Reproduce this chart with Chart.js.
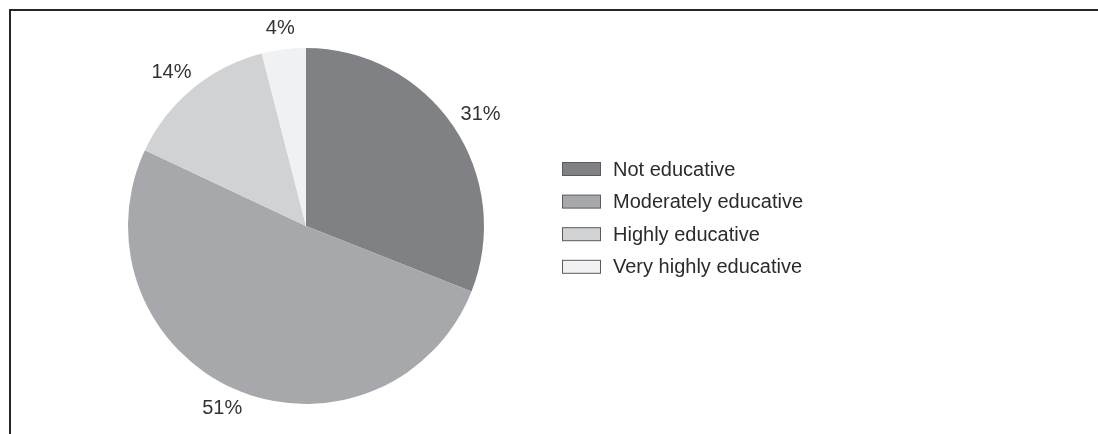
<!DOCTYPE html>
<html>
<head>
<meta charset="utf-8">
<script src="https://cdn.jsdelivr.net/npm/chart.js@4/dist/chart.umd.min.js"></script>
<style>
  html, body { margin: 0; padding: 0; background: #fff; }
  #wrap { position: relative; width: 1098px; height: 434px; }
  #frame { position: absolute; left: 9px; top: 9px; right: 0; bottom: 0;
           border-top: 2px solid #262626; border-left: 2px solid #262626; }
  canvas { position: absolute; left: 0; top: 0; }
</style>
</head>
<body>
<div id="wrap">
  <div id="frame"></div>
  <canvas id="pie" width="1098" height="434"></canvas>
</div>
<script>
'use strict';

// categories and shares (percent)
let labels = ['Not educative', 'Moderately educative', 'Highly educative', 'Very highly educative'];
let values = [31, 51, 14, 4];
let colors = ['#808184', '#a7a8ab', '#d1d2d4', '#f0f1f2'];

let textColor = '#2b2b2b';
let fontName = '"Liberation Sans", Arial, Helvetica, sans-serif';

// percent labels outside each slice
let outLabels = {
  id: 'outLabels',
  afterDatasetsDraw(chart) {
    let ctx = chart.ctx;
    let meta = chart.getDatasetMeta(0);
    ctx.save();
    ctx.font = '20px ' + fontName;
    ctx.fillStyle = '#333333';
    ctx.textAlign = 'center';
    ctx.textBaseline = 'middle';
    meta.data.forEach(function (arc, i) {
      let mid = (arc.startAngle + arc.endAngle) / 2;
      let txt = values[i] + '%';
      let halfW = ctx.measureText(txt).width / 2;
      let s = Math.cos(mid), c = Math.sin(mid);
      let r = arc.outerRadius + 13;
      // push the text out so its near edge sits on the anchor point
      ctx.fillText(txt, arc.x + r * s + halfW * s, arc.y + r * c + 8 * c);
    });
    ctx.restore();
  }
};

// legend to the right of the pie
let sideLegend = {
  id: 'sideLegend',
  afterDraw(chart) {
    let ctx = chart.ctx;
    let arc = chart.getDatasetMeta(0).data[0];
    let x0 = arc.x + 256;
    let y0 = arc.y - 57;
    ctx.save();
    ctx.font = '20px ' + fontName;
    ctx.textBaseline = 'middle';
    for (let i = 0; i < labels.length; i++) {
      let y = y0 + i * 32.6;
      ctx.fillStyle = colors[i];
      ctx.fillRect(x0, y - 6.5, 39, 13);
      ctx.strokeStyle = '#5a5b5d';
      ctx.lineWidth = 1;
      ctx.strokeRect(x0 + 0.5, y - 6.5, 38, 13);
      ctx.fillStyle = textColor;
      ctx.fillText(labels[i], x0 + 51, y + 1);
    }
    ctx.restore();
  }
};

let ctx = document.getElementById('pie').getContext('2d');
let chart = new Chart(ctx, {
  type: 'pie',
  data: {
    labels: labels,
    datasets: [{
      data: values,
      backgroundColor: colors,
      borderWidth: 0,
      hoverOffset: 0
    }]
  },
  options: {
    responsive: false,
    animation: false,
    layout: { padding: { left: 128, right: 614, top: 48, bottom: 30 } },
    plugins: {
      legend: { display: false },
      tooltip: { enabled: false }
    }
  },
  plugins: [outLabels, sideLegend]
});
</script>
</body>
</html>
